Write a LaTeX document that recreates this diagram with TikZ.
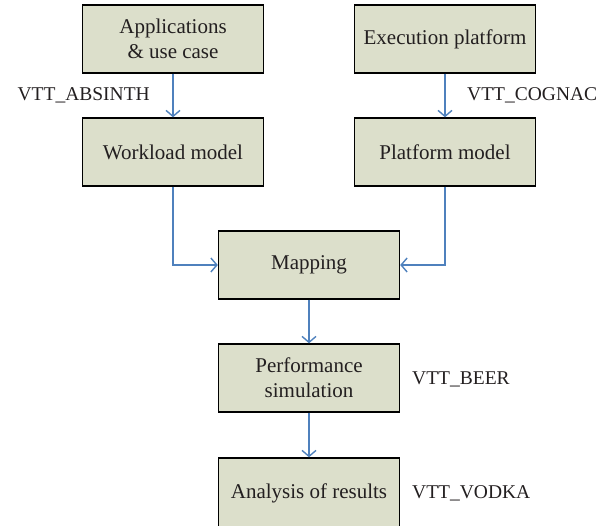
\documentclass[tikz,border=0pt]{standalone}
\usepackage{fontspec}
\setmainfont{Liberation Serif}
\usetikzlibrary{arrows.meta}
\definecolor{boxfill}{HTML}{DCDFCB}
\definecolor{flowblue}{HTML}{4F81BD}
\definecolor{inkgray}{HTML}{231F20}
\tikzset{
  stage/.style={draw=black, line width=1.4pt, fill=boxfill, minimum width=181pt,
    minimum height=68pt, inner sep=0pt, align=center, text=inkgray,
    font=\fontsize{21pt}{25pt}\selectfont},
  tag/.style={inner sep=0pt, text=inkgray, font=\fontsize{19.5pt}{23pt}\selectfont},
  flow/.style={draw=flowblue, line width=1.4pt, -{Straight Barb[length=6pt,width=14pt,line width=1.4pt]}}
}
\begin{document}
\begin{tikzpicture}[x=1pt,y=1pt]
\useasboundingbox (0,0) rectangle (613,-525);
\clip (0,0) rectangle (613,-525);
% stages of the flow
\node[stage] (app)  at (173,-39)  {Applications\\\& use case};
\node[stage] (work) at (173,-152) {Workload model};
\node[stage] (exec) at (445,-39)  {Execution platform};
\node[stage] (plat) at (445,-152) {Platform model};
\node[stage] (map)  at (309,-265) {Mapping};
\node[stage] (perf) at (309,-378) {Performance\\simulation};
\node[stage, minimum height=70pt] (anal) at (309,-493) {Analysis of results};
% tool names
\node[tag, anchor=east] (absinth) at (150,-95)  {VTT\_ABSINTH};
\node[tag, anchor=west] (cognac)  at (467,-95)  {VTT\_COGNAC};
\node[tag, anchor=west] (beer)    at (412,-379) {VTT\_BEER};
\node[tag, anchor=west] (vodka)   at (412,-493) {VTT\_VODKA};
% connectors
\draw[flow] (app) -- (work);
\draw[flow] (exec) -- (plat);
\draw[flow] (work.south) |- (map.west);
\draw[flow] (plat.south) |- (map.east);
\draw[flow] (map) -- (perf);
\draw[flow] (perf) -- (anal);
\end{tikzpicture}
\end{document}
